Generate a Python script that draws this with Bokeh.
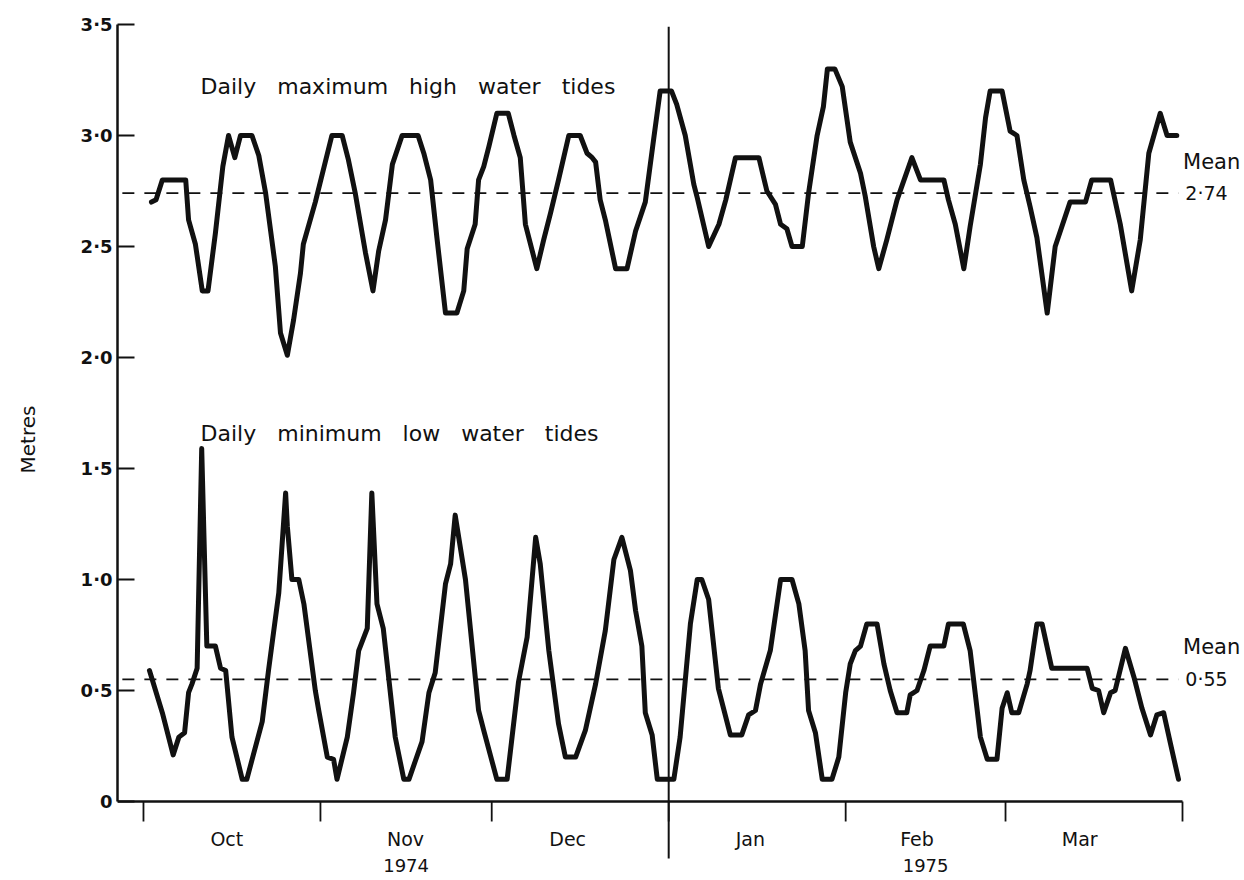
from bokeh.plotting import figure
from bokeh.models import Range1d, FixedTicker, CustomJSTickFormatter
from bokeh.core.properties import value
from bokeh.embed import file_html
from bokeh.resources import INLINE
import numpy as np

# ---------------- data ----------------
# x = days since 1 Oct 1974 (0 = 1 Oct, 182 = 1 Apr 1975)
months = ["Oct", "Nov", "Dec", "Jan", "Feb", "Mar"]
month_days = [31, 30, 31, 31, 28, 31]
month_label_pos = [14.6, 45.9, 74.3, 106.3, 135.5, 164.0]
years = ["1974", "1975"]
year_label_pos = [46.0, 137.0]
year_break = 92  # 1 Jan 1975

high_day = [1.4, 2.2, 3.3, 6.8, 7.4, 7.9, 9.1, 10.3, 11.3, 12.6, 13.9, 14.9, 16.0, 17.0, 19.0,
            20.2, 21.4, 23.1, 24.0, 25.2, 26.3, 27.5, 28.0, 30.1, 33.0, 34.8, 35.9, 37.1, 38.9,
            40.2, 41.2, 42.4, 43.6, 45.3, 48.1, 49.1, 50.3, 51.4, 52.9, 54.9, 56.1, 56.7, 58.1,
            58.7, 59.6, 60.5, 61.9, 63.9, 64.9, 66.0, 66.9, 68.9, 70.1, 71.3, 72.7, 74.5, 76.5,
            77.7, 78.6, 79.2, 80.0, 80.9, 82.7, 84.7, 86.2, 87.9, 89.4, 90.5, 92.5, 93.4, 94.9,
            96.4, 97.0, 99.0, 100.8, 102.0, 103.7, 107.8, 109.2, 110.7, 111.6, 112.7, 113.6,
            115.4, 116.5, 118.0, 119.1, 119.8, 121.1, 122.4, 123.8, 125.6, 126.4, 127.9, 128.8,
            130.2, 132.0, 134.6, 136.1, 140.2, 141.0, 142.2, 143.7, 144.8, 146.6, 147.5, 148.3,
            150.4, 151.8, 153.0, 154.2, 155.3, 156.5, 158.3, 159.7, 162.3, 165.0, 166.1, 169.4,
            171.1, 173.1, 174.6, 176.1, 178.1, 179.3, 181.0]
high_m = [2.70, 2.71, 2.80, 2.80, 2.80, 2.62, 2.51, 2.30, 2.30, 2.56, 2.86, 3.00, 2.90, 3.00, 3.00,
          2.91, 2.74, 2.41, 2.11, 2.01, 2.17, 2.38, 2.51, 2.70, 3.00, 3.00, 2.89, 2.74, 2.47,
          2.30, 2.48, 2.62, 2.87, 3.00, 3.00, 2.92, 2.80, 2.54, 2.20, 2.20, 2.30, 2.49, 2.60,
          2.80, 2.86, 2.95, 3.10, 3.10, 3.00, 2.90, 2.60, 2.40, 2.53, 2.65, 2.80, 3.00, 3.00,
          2.92, 2.90, 2.88, 2.71, 2.62, 2.40, 2.40, 2.57, 2.70, 2.99, 3.20, 3.20, 3.14, 3.00,
          2.78, 2.72, 2.50, 2.60, 2.71, 2.90, 2.90, 2.75, 2.69, 2.60, 2.58, 2.50,
          2.50, 2.74, 3.00, 3.13, 3.30, 3.30, 3.22, 2.97, 2.83, 2.73, 2.50, 2.40,
          2.53, 2.71, 2.90, 2.80, 2.80, 2.71, 2.60, 2.40, 2.59, 2.87, 3.08, 3.20,
          3.20, 3.02, 3.00, 2.80, 2.68, 2.54, 2.20, 2.50, 2.70, 2.70, 2.80, 2.80,
          2.60, 2.30, 2.53, 2.92, 3.10, 3.00, 3.00]

low_day = [1.05, 3.3, 5.2, 6.2, 7.2, 7.9, 8.5, 9.4, 10.2, 10.6, 11.1, 12.6, 13.5, 14.4, 15.5,
           17.3, 18.1, 20.8, 21.9, 23.7, 24.9, 25.2, 26.0, 27.2, 28.1, 30.1, 30.7, 32.2, 33.3,
           33.9, 35.7, 36.8, 37.7, 39.2, 40.0, 40.9, 42.0, 44.1, 45.6, 46.5, 48.8, 50.0, 51.1,
           52.9, 53.8, 54.6, 56.4, 58.7, 59.6, 61.9, 63.7, 65.7, 67.2, 68.7, 69.5, 71.0, 72.7,
           73.9, 75.7, 77.4, 79.2, 80.9, 82.4, 83.8, 85.3, 86.2, 87.3, 87.9, 89.1, 90.0, 92.9,
           94.0, 95.8, 97.0, 97.8, 99.0, 100.7, 102.8, 104.8, 106.0, 107.2, 108.1, 109.8, 111.6,
           113.6, 114.8, 115.9, 116.5, 117.7, 118.9, 120.6, 121.8, 123.0, 123.8, 124.7, 125.6,
           126.7, 128.5, 129.7, 130.8, 132.0, 133.7, 134.3, 135.5, 136.7, 137.8, 140.2, 141.0,
           143.6, 144.8, 146.6, 147.8, 149.5, 150.4, 151.3, 152.1, 153.3, 154.8, 155.3, 156.5,
           157.4, 159.1, 165.3, 166.2, 167.3, 168.2, 169.4, 170.2, 172.0, 173.5, 174.9, 176.4,
           177.5, 178.7, 179.9, 181.3]
low_m = [0.59, 0.40, 0.21, 0.29, 0.31, 0.49, 0.53, 0.60, 1.59, 1.19, 0.70, 0.70, 0.60, 0.59, 0.29,
         0.10, 0.10, 0.36, 0.59, 0.94, 1.39, 1.24, 1.00, 1.00, 0.89, 0.50, 0.41, 0.20, 0.19,
         0.10, 0.29, 0.49, 0.68, 0.78, 1.39, 0.89, 0.78, 0.29, 0.10, 0.10, 0.27, 0.49, 0.58,
         0.98, 1.07, 1.29, 1.00, 0.41, 0.32, 0.10, 0.10, 0.54, 0.74, 1.19, 1.07, 0.68, 0.35,
         0.20, 0.20, 0.32, 0.53, 0.77, 1.09, 1.19, 1.04, 0.86, 0.70, 0.40, 0.30, 0.10, 0.10,
         0.29, 0.80, 1.00, 1.00, 0.91, 0.51, 0.30, 0.30, 0.39, 0.41, 0.53, 0.68, 1.00,
         1.00, 0.89, 0.68, 0.41, 0.31, 0.10, 0.10, 0.20, 0.49, 0.62, 0.68, 0.70,
         0.80, 0.80, 0.62, 0.50, 0.40, 0.40, 0.48, 0.50, 0.59, 0.70, 0.70, 0.80,
         0.80, 0.68, 0.29, 0.19, 0.19, 0.42, 0.49, 0.40, 0.40, 0.53, 0.59, 0.80,
         0.80, 0.60, 0.60, 0.51, 0.50, 0.40, 0.49, 0.50, 0.69, 0.56, 0.42, 0.30,
         0.39, 0.40, 0.26, 0.10]

mean_high = 2.74
mean_low = 0.55
mean_labels = ["2\u00b774", "0\u00b755"]
y_ticks = [0, 0.5, 1.0, 1.5, 2.0, 2.5, 3.0, 3.5]
NB = "\u00a0\u00a0\u00a0"
series_titles = [NB.join(["Daily", "maximum", "high", "water", "tides"]),
                 NB.join(["Daily", "minimum", "low", "water", "tides"])]

# ---------------- figure ----------------
FONT_NAME = "DejaVu Sans"
FONT = value(FONT_NAME)
INK = "#111111"
month_bounds = list(np.concatenate([[0], np.cumsum(month_days)]).astype(float))

p = figure(width=1240, height=878,
           x_range=Range1d(-4.55, 192.16), y_range=Range1d(-0.3468, 3.608),
           output_backend="svg", toolbar_location=None, x_axis_location=None,
           min_border_left=117, min_border_right=0, min_border_top=0, min_border_bottom=0,
           outline_line_color=None, background_fill_color="white", border_fill_color="white")
p.grid.visible = False

# y axis (real axis, ticks pointing inwards)
ya = p.yaxis[0]
ya.bounds = (0, 3.5)
ya.ticker = FixedTicker(ticks=y_ticks, minor_ticks=[])
ya.formatter = CustomJSTickFormatter(
    code="return tick == 0 ? '0' : tick.toFixed(1).replace('.', '\u00b7');")
ya.axis_line_width = 2.5
ya.axis_line_color = INK
ya.major_tick_in = 17
ya.major_tick_out = 0
ya.major_tick_line_width = 2
ya.major_tick_line_color = INK
ya.minor_tick_line_color = None
ya.major_label_standoff = 5
ya.major_label_text_font = FONT_NAME
ya.major_label_text_font_style = "bold"
ya.major_label_text_font_size = "18px"
ya.major_label_text_color = INK
ya.axis_label = "Metres"
ya.axis_label_text_font = FONT_NAME
ya.axis_label_text_font_style = "normal"
ya.axis_label_text_font_size = "20px"
ya.axis_label_standoff = 38
ya.axis_label_text_color = INK

# x axis drawn in data space (line, month-boundary ticks, labels)
p.segment(x0=[-4.55], y0=[0], x1=[month_bounds[-1]], y1=[0], line_width=2.5, line_color=INK)
p.segment(x0=month_bounds, y0=[0] * len(month_bounds), x1=month_bounds,
          y1=[-0.09] * len(month_bounds), line_width=1.8, line_color=INK)
p.text(x=month_label_pos, y=[-0.167] * len(months), text=months, text_font=FONT,
       text_font_size="19px", text_align="center", text_baseline="middle", text_color=INK)
p.text(x=year_label_pos, y=[-0.288] * len(years), text=years, text_font=FONT,
       text_font_size="18px", text_align="center", text_baseline="middle", text_color=INK)

# year divider
p.segment(x0=[year_break], y0=[3.49], x1=[year_break], y1=[-0.257], line_width=2, line_color=INK)

# mean lines
for m in (mean_high, mean_low):
    p.line(x=[-3.7, 181.3], y=[m, m], line_dash="12 10", line_width=1.8, line_color=INK)

# series
p.line(x=high_day, y=high_m, line_width=5, line_color=INK, line_join="round", line_cap="round")
p.line(x=low_day, y=low_m, line_width=5, line_color=INK, line_join="round", line_cap="round")

# texts
p.text(x=[10.0, 10.0], y=[3.22, 1.658], text=series_titles, text_font=FONT,
       text_font_size="22px", text_align="left", text_baseline="middle", text_color=INK)
p.text(x=[182.1, 182.1], y=[2.88, 0.695], text=["Mean", "Mean"], text_font=FONT,
       text_font_size="21px", text_align="left", text_baseline="middle", text_color=INK)
p.text(x=[182.5, 182.5], y=[mean_high, mean_low], text=mean_labels, text_font=FONT,
       text_font_size="19px", text_align="left", text_baseline="middle", text_color=INK)

open("out.html", "w").write(file_html(p, INLINE))
